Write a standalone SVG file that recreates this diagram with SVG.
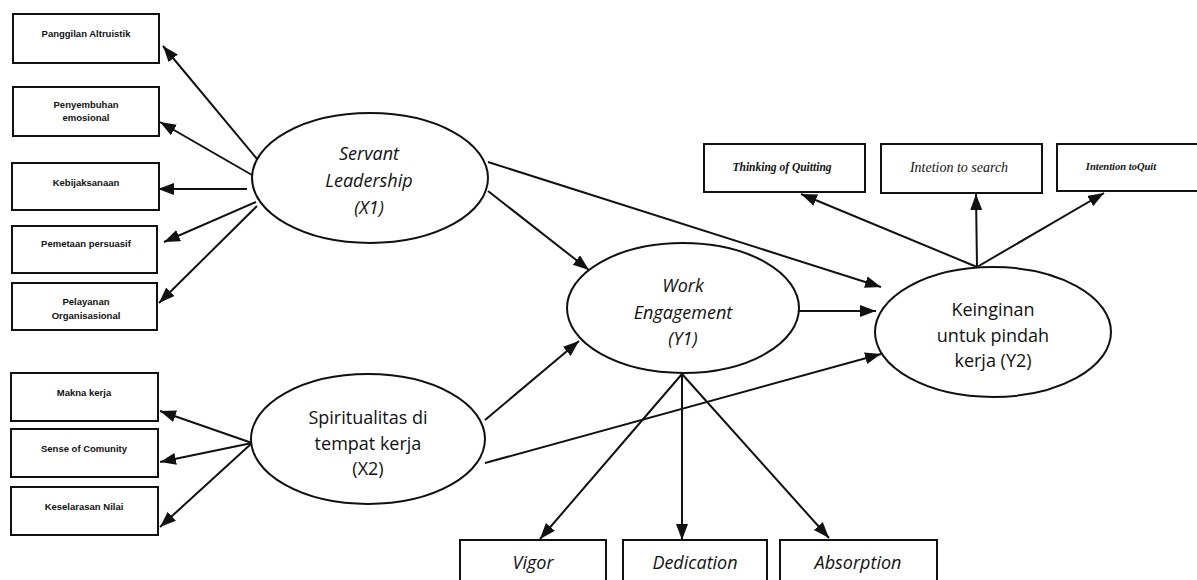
<svg xmlns="http://www.w3.org/2000/svg" width="1197" height="580" viewBox="0 0 1197 580">
<style>
.box{fill:#fff;stroke:#111;stroke-width:2}
.ell{fill:#fff;stroke:#111;stroke-width:2}
.lt{font-family:"Liberation Sans",Arial,sans-serif;font-weight:bold;font-size:9.5px;fill:#111;text-anchor:middle}
.tr{font-family:"Liberation Serif","Times New Roman",serif;font-style:italic;font-weight:bold;fill:#111;text-anchor:middle}
.tn{font-weight:normal}
.et{font-family:"Open Sans","Noto Sans",sans-serif;font-size:18px;fill:#111;text-anchor:middle}
.it{font-style:italic}
.con line{stroke:#111;stroke-width:2;marker-end:url(#ah)}
</style>
<defs>
<marker id="ah" markerUnits="userSpaceOnUse" markerWidth="17" markerHeight="13" refX="16" refY="6" orient="auto">
<path d="M0,0 L16,6 L0,12 z" fill="#111"/>
</marker>
</defs>
<rect width="1197" height="580" fill="#fff"/>
<g id="connectors" class="con">
<line x1="257" y1="159" x2="163" y2="46"/>
<line x1="252" y1="175" x2="160" y2="122"/>
<line x1="247" y1="189" x2="158" y2="189"/>
<line x1="256" y1="202" x2="164" y2="242"/>
<line x1="257" y1="206" x2="159" y2="303"/>
<line x1="252" y1="443" x2="160" y2="411"/>
<line x1="252" y1="443" x2="160" y2="462"/>
<line x1="252" y1="443" x2="160" y2="527"/>
<line x1="488" y1="191" x2="589" y2="270"/>
<line x1="488" y1="162" x2="881" y2="287"/>
<line x1="485" y1="420" x2="579" y2="341"/>
<line x1="485" y1="463" x2="881" y2="354"/>
<line x1="799" y1="311" x2="876" y2="311"/>
<line x1="682" y1="374" x2="540" y2="539"/>
<line x1="682" y1="374" x2="682" y2="540"/>
<line x1="682" y1="374" x2="829" y2="538"/>
<line x1="977" y1="267" x2="801" y2="194"/>
<line x1="977" y1="267" x2="976" y2="194"/>
<line x1="977" y1="267" x2="1104" y2="193"/>
</g>
<g id="n-panggilan"><rect class="box" x="13" y="14" width="146" height="49"/><text class="lt" x="86" y="37">Panggilan Altruistik</text></g>
<g id="n-penyembuhan"><rect class="box" x="13" y="87" width="146" height="49"/><text class="lt" x="86" y="108">Penyembuhan</text><text class="lt" x="86" y="121">emosional</text></g>
<g id="n-kebijaksanaan"><rect class="box" x="12" y="163" width="147" height="47"/><text class="lt" x="86" y="186">Kebijaksanaan</text></g>
<g id="n-pemetaan"><rect class="box" x="12" y="226" width="145" height="47"/><text class="lt" x="86" y="247">Pemetaan persuasif</text></g>
<g id="n-pelayanan"><rect class="box" x="12" y="283" width="145" height="47"/><text class="lt" x="86" y="305">Pelayanan</text><text class="lt" x="86" y="319">Organisasional</text></g>
<g id="n-makna"><rect class="box" x="11" y="373" width="147" height="48"/><text class="lt" x="84" y="396">Makna kerja</text></g>
<g id="n-sense"><rect class="box" x="11" y="429" width="147" height="48"/><text class="lt" x="84" y="452">Sense of Comunity</text></g>
<g id="n-keselarasan"><rect class="box" x="11" y="487" width="147" height="48"/><text class="lt" x="84" y="510">Keselarasan Nilai</text></g>
<g id="n-servant"><ellipse class="ell" cx="370" cy="178" rx="118" ry="65"/><text class="et it" x="369" y="160">Servant</text><text class="et it" x="369" y="187">Leadership</text><text class="et it" x="369" y="214">(X1)</text></g>
<g id="n-spiritualitas"><ellipse class="ell" cx="368" cy="439" rx="117" ry="65"/><text class="et" x="368" y="424">Spiritualitas di</text><text class="et" x="368" y="450">tempat kerja</text><text class="et" x="368" y="475">(X2)</text></g>
<g id="n-work"><ellipse class="ell" cx="683" cy="308" rx="116" ry="65"/><text class="et it" x="683" y="292">Work</text><text class="et it" x="683" y="319">Engagement</text><text class="et it" x="683" y="345">(Y1)</text></g>
<g id="n-keinginan"><ellipse class="ell" cx="993" cy="332" rx="118" ry="65"/><text class="et" x="993" y="316">Keinginan</text><text class="et" x="993" y="342">untuk pindah</text><text class="et" x="993" y="367">kerja (Y2)</text></g>
<g id="n-thinking"><rect class="box" x="704" y="144" width="161" height="48"/><text class="tr" x="782" y="171" font-size="11.5px">Thinking of Quitting</text></g>
<g id="n-search"><rect class="box" x="881" y="144" width="161" height="49"/><text class="tr tn" x="959" y="172" font-size="14px">Intetion to search</text></g>
<g id="n-quit"><rect class="box" x="1057" y="144" width="150" height="47"/><text class="tr" x="1121" y="170" font-size="10.5px">Intention toQuit</text></g>
<g id="n-vigor"><rect class="box" x="460" y="540" width="146" height="50"/><text class="et it" x="533" y="569" font-size="17px">Vigor</text></g>
<g id="n-dedication"><rect class="box" x="623" y="540" width="144" height="50"/><text class="et it" x="695" y="569" font-size="17px">Dedication</text></g>
<g id="n-absorption"><rect class="box" x="780" y="540" width="157" height="50"/><text class="et it" x="858" y="569" font-size="17px">Absorption</text></g>
</svg>
